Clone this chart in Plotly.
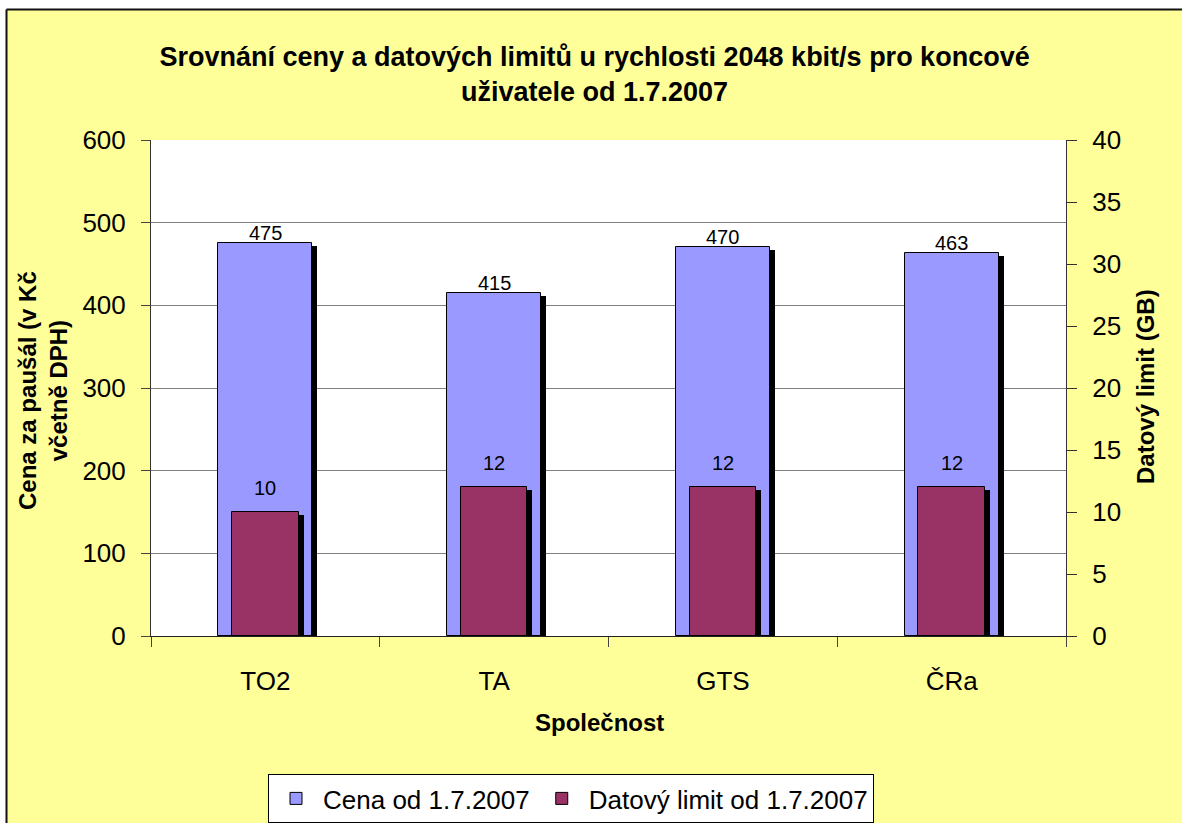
import plotly.graph_objects as go

categories = ["TO2", "TA", "GTS", "ČRa"]
cena = [475, 415, 470, 463]
datovy_limit = [10, 12, 12, 12]

series_names = ["Cena od 1.7.2007", "Datový limit od 1.7.2007"]
title_text = "Srovnání ceny a datových limitů u rychlosti 2048 kbit/s pro koncové<br>uživatele od 1.7.2007"
y_title = "Cena za paušál (v Kč<br>včetně DPH)"
y2_title = "Datový limit (GB)"
x_title = "Společnost"

FONT = "Liberation Sans, Arial, sans-serif"
W, H = 1182, 823
L, R, T, B = 151, 116, 140, 187
PW, PH = W - L - R, H - T - B

def px(xp):
    return (xp - L) / PW

def py(yp):
    return (H - B - yp) / PH

Y1MAX, Y2MAX = 600, 40
cat_w = PW / len(categories)
sh_dx = 5 / cat_w
sh_dy1 = 3 * Y1MAX / PH
sh_dy2 = 3 * Y2MAX / PH

w1, w2 = 0.41, 0.29

fig = go.Figure()
fig.add_trace(go.Bar(x=categories, y=[v - sh_dy1 for v in cena], width=w1, offset=-w1 / 2 + sh_dx,
                     marker=dict(color="black", line=dict(width=0)), showlegend=False,
                     hoverinfo="skip", yaxis="y"))
fig.add_trace(go.Bar(x=categories, y=cena, width=w1, offset=-w1 / 2, name=series_names[0],
                     marker=dict(color="#9999FF", line=dict(color="black", width=1)), yaxis="y"))
fig.add_trace(go.Bar(x=categories, y=[v - sh_dy2 for v in datovy_limit], width=w2, offset=-w2 / 2 + sh_dx,
                     marker=dict(color="black", line=dict(width=0)), showlegend=False,
                     hoverinfo="skip", yaxis="y2"))
fig.add_trace(go.Bar(x=categories, y=datovy_limit, width=w2, offset=-w2 / 2, name=series_names[1],
                     marker=dict(color="#993366", line=dict(color="black", width=1)), yaxis="y2"))

annotations = []
for c, v in zip(categories, cena):
    annotations.append(dict(x=c, y=v, xref="x", yref="y", text=str(v), showarrow=False,
                            yanchor="bottom", yshift=-3, font=dict(family=FONT, size=20, color="black")))
for c, v in zip(categories, datovy_limit):
    annotations.append(dict(x=c, y=v, xref="x", yref="y2", text=str(v), showarrow=False,
                            yanchor="bottom", yshift=11, font=dict(family=FONT, size=20, color="black")))

annotations.append(dict(x=px(43), y=py(391), xref="paper", yref="paper", text="<b>" + y_title + "</b>",
                        textangle=-90, showarrow=False, xanchor="center", yanchor="middle",
                        font=dict(family=FONT, size=24, color="black")))
annotations.append(dict(x=px(1145), y=py(387), xref="paper", yref="paper", text="<b>" + y2_title + "</b>",
                        textangle=-90, showarrow=False, xanchor="center", yanchor="middle",
                        font=dict(family=FONT, size=24, color="black")))
annotations.append(dict(x=px(599), y=py(722), xref="paper", yref="paper", text="<b>" + x_title + "</b>",
                        showarrow=False, xanchor="center", yanchor="middle",
                        font=dict(family=FONT, size=24, color="black")))

shapes = [
    dict(type="rect", xref="paper", yref="paper", x0=-0.3, x1=1.3, y0=py(9), y1=py(-20),
         fillcolor="white", line=dict(width=0), layer="above"),
    dict(type="rect", xref="paper", yref="paper", x0=px(-20), x1=px(6), y0=py(900), y1=py(-20),
         fillcolor="white", line=dict(width=0), layer="above"),
    dict(type="line", xref="paper", yref="paper", x0=px(6.5), x1=px(1200), y0=py(9.5), y1=py(9.5),
         line=dict(color="#111111", width=2), layer="above"),
    dict(type="line", xref="paper", yref="paper", x0=px(6.5), x1=px(6.5), y0=py(9.5), y1=py(900),
         line=dict(color="#111111", width=2), layer="above"),
]

fig.update_layout(
    width=W, height=H,
    margin=dict(l=L, r=R, t=T, b=B, autoexpand=False),
    paper_bgcolor="#FFFF99",
    plot_bgcolor="white",
    barmode="overlay",
    bargap=0,
    font=dict(family=FONT, size=20, color="black"),
    title=dict(text="<b>" + title_text + "</b>", x=0.503, xanchor="center", xref="container",
               y=1 - 66 / H, yanchor="top", yref="container",
               font=dict(family=FONT, size=27, color="black")),
    xaxis=dict(type="category", showline=True, linecolor="#222", linewidth=1, ticks="outside",
               ticklen=10, tickcolor="#444", tickson="boundaries", showgrid=False, automargin=False,
               tickfont=dict(family=FONT, size=26), ticklabelstandoff=22),
    yaxis=dict(range=[0, Y1MAX], dtick=100, showline=True, linecolor="#333", linewidth=1,
               ticks="outside", ticklen=9, tickcolor="#444", showgrid=True, gridcolor="#808080",
               gridwidth=1, zeroline=False, tickfont=dict(family=FONT, size=26), ticklabelstandoff=10,
               automargin=False),
    yaxis2=dict(range=[0, Y2MAX], dtick=5, overlaying="y", side="right", showline=True,
                linecolor="#333", linewidth=1, ticks="outside", ticklen=10, tickcolor="#333",
                showgrid=False, zeroline=False, tickfont=dict(family=FONT, size=26), ticklabelstandoff=10,
                automargin=False),
    yaxis3=dict(range=[0, Y2MAX], dtick=5, overlaying="y", side="right", showline=False,
                ticks="inside", ticklen=10, tickcolor="#333", showticklabels=False,
                showgrid=False, zeroline=False, automargin=False),
    legend=dict(orientation="h", x=571 / W, y=1 - 774 / H, xref="container", yref="container",
                xanchor="center", yanchor="top",
                bgcolor="white", bordercolor="black", borderwidth=1, itemwidth=44,
                font=dict(family=FONT, size=26, color="black"), traceorder="normal"),
    annotations=annotations,
    shapes=shapes,
    showlegend=True,
)

fig.write_html("out.html", config={"displayModeBar": False},
               post_script="document.body.style.margin='0';document.body.style.overflow='hidden';document.documentElement.style.overflow='hidden';")
